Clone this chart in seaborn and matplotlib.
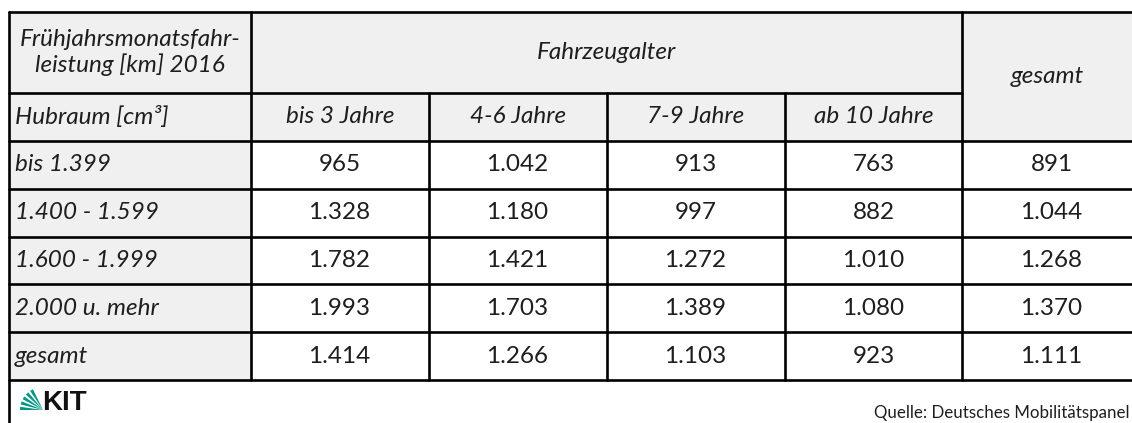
import matplotlib.pyplot as plt
import matplotlib.patches as mpatches
from matplotlib.colors import ListedColormap
import numpy as np
import pandas as pd
import seaborn as sns

sns.set_style('white')
plt.rcParams['font.family'] = ['Lato', 'DejaVu Sans']

# Daten
hubraum = ['bis 1.399', '1.400 - 1.599', '1.600 - 1.999', '2.000 u. mehr', 'gesamt']
alter = ['bis 3 Jahre', '4-6 Jahre', '7-9 Jahre', 'ab 10 Jahre']
bis3 = [965, 1328, 1782, 1993, 1414]
j4_6 = [1042, 1180, 1421, 1703, 1266]
j7_9 = [913, 997, 1272, 1389, 1103]
ab10 = [763, 882, 1010, 1080, 923]
gesamt = [891, 1044, 1268, 1370, 1111]

df = pd.DataFrame({'bis 3 Jahre': bis3, '4-6 Jahre': j4_6, '7-9 Jahre': j7_9,
                   'ab 10 Jahre': ab10, 'gesamt': gesamt}, index=hubraum)
labels = df.map(lambda v: f'{v:,}'.replace(',', '.'))

W, H = 1132, 423
fig = plt.figure(figsize=(W / 100, H / 100), dpi=100)

# Layout in Pixeln
xs = [9, 250.5, 429, 606.5, 784.5, 962.3, 1140.5]
ys = [12.3, 92.7, 140.7, 188.7, 236.7, 284.5, 332.3, 380]
grau = '#f0f0f0'
txt = '#1e1e1e'
fs = 17.5

# Werte als Heatmap
hx = fig.add_axes([xs[1] / W, 1 - ys[-1] / H, (xs[-1] - xs[1]) / W, (ys[-1] - ys[2]) / H])
sns.heatmap(df, ax=hx, cmap=ListedColormap(['white']), cbar=False,
            annot=labels.values, fmt='', linewidths=0,
            annot_kws={'fontsize': fs, 'color': txt},
            xticklabels=False, yticklabels=False)
hx.set_xlabel('')
hx.set_ylabel('')

# Kopf, Vorspalte, Linien
ax = fig.add_axes([0, 0, 1, 1])
ax.set_xlim(0, W)
ax.set_ylim(H, 0)
ax.axis('off')
ax.patch.set_alpha(0)

ax.add_patch(mpatches.Rectangle((xs[0], ys[0]), W - xs[0], ys[2] - ys[0], color=grau, lw=0))
ax.add_patch(mpatches.Rectangle((xs[0], ys[2]), xs[1] - xs[0], ys[-1] - ys[2], color=grau, lw=0))

ax.text((xs[0] + xs[1]) / 2, (ys[0] + ys[1]) / 2, 'Frühjahrsmonatsfahr-\nleistung [km] 2016',
        ha='center', va='center', style='italic', fontsize=fs, color=txt, linespacing=1.15)
ax.text((xs[1] + xs[5]) / 2, (ys[0] + ys[1]) / 2, 'Fahrzeugalter',
        ha='center', va='center', style='italic', fontsize=fs, color=txt)
ax.text((xs[5] + W) / 2, (ys[0] + ys[2]) / 2, 'gesamt',
        ha='center', va='center', style='italic', fontsize=fs, color=txt)
ax.text(15, (ys[1] + ys[2]) / 2, 'Hubraum [cm³]',
        ha='left', va='center', style='italic', fontsize=fs, color=txt)
for i, a in enumerate(alter):
    ax.text((xs[i + 1] + xs[i + 2]) / 2, (ys[1] + ys[2]) / 2, a,
            ha='center', va='center', style='italic', fontsize=fs, color=txt)
for i, h in enumerate(hubraum):
    ax.text(15, (ys[i + 2] + ys[i + 3]) / 2, h,
            ha='left', va='center', style='italic', fontsize=fs, color=txt)

lw = 1.9
ax.plot([xs[0], W], [ys[0], ys[0]], color='black', lw=lw)
ax.plot([xs[0], xs[5]], [ys[1], ys[1]], color='black', lw=lw)
for y in ys[2:]:
    ax.plot([xs[0], W], [y, y], color='black', lw=lw)
ax.plot([xs[0], xs[0]], [ys[0], H], color='black', lw=lw)
ax.plot([xs[1], xs[1]], [ys[0], ys[-1]], color='black', lw=lw)
ax.plot([xs[5], xs[5]], [ys[0], ys[-1]], color='black', lw=lw)
for x in xs[2:5]:
    ax.plot([x, x], [ys[1], ys[-1]], color='black', lw=lw)

# KIT-Logo
gruen = '#009682'
for k in range(5):
    a0 = 180 + k * 14
    ax.add_patch(mpatches.Wedge((43, 410), 23, a0, a0 + 8, color=gruen, lw=0))
ax.text(42, 410, 'KIT', ha='left', va='baseline', fontsize=20, fontweight='black',
        color='#111111', family='Liberation Sans')

ax.text(1130, 418, 'Quelle: Deutsches Mobilitätspanel', ha='right', va='baseline',
        fontsize=12.2, color=txt)

fig.savefig('out.png', dpi=100)
